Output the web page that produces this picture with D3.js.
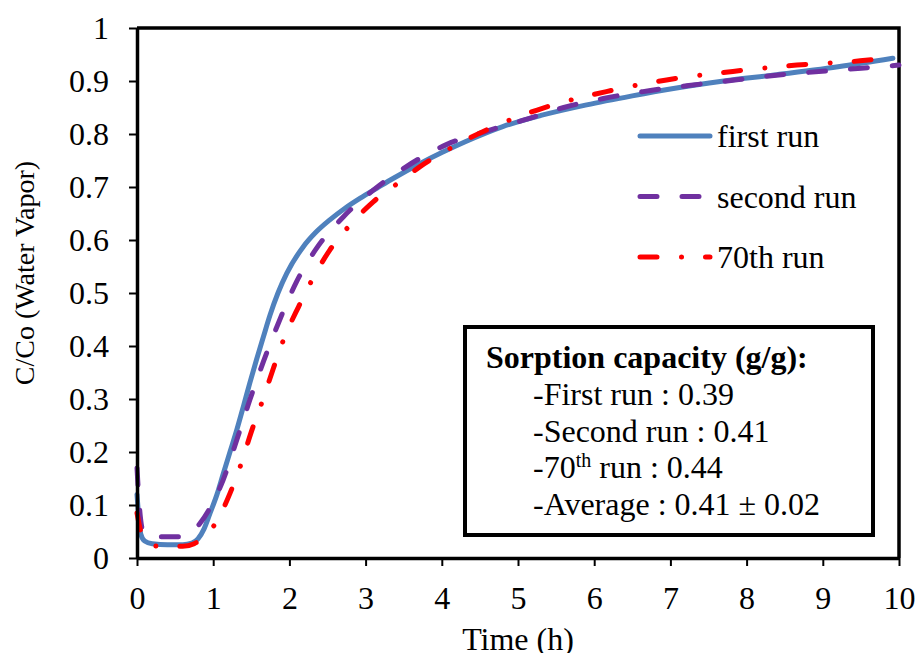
<!DOCTYPE html>
<html>
<head>
<meta charset="utf-8">
<style>
    body { margin: 0; background: #fff; }
    svg text { font-family: "Liberation Serif", "Times New Roman", serif; fill: #000; }
    .axis text { font-size: 32px; }
    .axis line { stroke: #000; stroke-width: 2px; }
    .axis path { stroke: #000; stroke-width: 3.5px; }
</style>
</head>
<body>
<svg width="918" height="653"></svg>
<script src="https://cdn.jsdelivr.net/npm/d3@7"></script>
<script>
    // values: [time (h), C/Co]
    var firstRun = [
        [0, 0.12], [0.05, 0.045], [0.1, 0.032], [0.2, 0.027], [0.4, 0.025], [0.6, 0.025],
        [0.72, 0.028], [0.8, 0.036], [0.88, 0.055], [0.96, 0.085], [1.05, 0.12], [1.13, 0.158],
        [1.22, 0.2], [1.31, 0.242], [1.4, 0.288], [1.48, 0.33], [1.57, 0.375], [1.66, 0.418],
        [1.745, 0.458], [1.85, 0.5], [1.965, 0.537], [2.18, 0.587], [2.35, 0.615], [2.53, 0.638],
        [2.73, 0.66], [2.93, 0.679], [3.15, 0.698], [3.36, 0.716], [3.71, 0.744], [4.0, 0.765],
        [4.3, 0.785], [4.8, 0.814], [5.3, 0.835], [5.9, 0.855], [6.5, 0.872], [7.0, 0.885],
        [7.7, 0.9], [8.4, 0.912], [9.2, 0.927], [9.92, 0.943]
    ];
    var secondRun = [
        [0, 0.17], [0.03, 0.1], [0.08, 0.05], [0.15, 0.042], [0.3, 0.04], [0.56, 0.04],
        [0.7, 0.046], [0.83, 0.066], [0.96, 0.095], [1.13, 0.147], [1.31, 0.223], [1.48, 0.298],
        [1.66, 0.371], [1.855, 0.443], [2.096, 0.522], [2.36, 0.585], [2.71, 0.644], [3.1, 0.694],
        [3.54, 0.739], [4.06, 0.78], [4.6, 0.806], [5.07, 0.826], [5.6, 0.85], [6.12, 0.867],
        [6.64, 0.88], [7.21, 0.891], [7.69, 0.899], [8.2, 0.908], [8.79, 0.916], [9.31, 0.922],
        [9.84, 0.928], [10, 0.93]
    ];
    var run70 = [
        [0, 0.085], [0.05, 0.05], [0.12, 0.03], [0.3, 0.022], [0.6, 0.022], [0.75, 0.027],
        [0.83, 0.034], [0.95, 0.05], [1.05, 0.07], [1.22, 0.122], [1.37, 0.179], [1.5, 0.238],
        [1.65, 0.298], [1.79, 0.358], [1.94, 0.418], [2.12, 0.474], [2.31, 0.528], [2.53, 0.581],
        [2.82, 0.632], [3.1, 0.672], [3.45, 0.71], [3.71, 0.738], [4.1, 0.772], [4.59, 0.808],
        [5.33, 0.849], [6.16, 0.88], [6.95, 0.902], [7.82, 0.918], [8.66, 0.93], [9.49, 0.938],
        [9.95, 0.945]
    ];
    var seriesNames = ["first run", "second run", "70th run"];
    var xTicks = [0, 1, 2, 3, 4, 5, 6, 7, 8, 9, 10];
    var yTicks = [0, 0.1, 0.2, 0.3, 0.4, 0.5, 0.6, 0.7, 0.8, 0.9, 1];
    var capacityLabels = ["First run", "Second run", "70th run", "Average"];
    var capacityValues = ["0.39", "0.41", "0.44", "0.41 \u00b1 0.02"];

    var svg = d3.select("svg");
    // plot edges in px (not "top": that name is taken by window.top)
    var pLeft = 137, pTop = 28, pRight = 899, pBottom = 558;

    var x = d3.scaleLinear().domain([0, 10]).range([pLeft, pRight]);
    var y = d3.scaleLinear().domain([0, 1]).range([pBottom, pTop]);

    var styles = [
        { color: "#4F81BD", dash: null },
        { color: "#7030A0", dash: "17,25" },
        { color: "#FF0000", dash: "17,24.5,0.01,24" }
    ];
    var allSeries = [firstRun, secondRun, run70];

    // frame (top and right)
    svg.append("path")
        .attr("d", "M" + pLeft + "," + pTop + "H" + pRight + "V" + pBottom)
        .attr("fill", "none").attr("stroke", "#000").attr("stroke-width", 3.5);

    var line = d3.line()
        .x(d => x(d[0]))
        .y(d => y(d[1]))
        .curve(d3.curveMonotoneX);

    svg.append("g").selectAll("path")
        .data(allSeries)
        .join("path")
        .attr("d", line)
        .attr("fill", "none")
        .attr("stroke", (d, i) => styles[i].color)
        .attr("stroke-width", 5)
        .attr("stroke-linecap", "round")
        .attr("stroke-dasharray", (d, i) => styles[i].dash);

    svg.append("g").attr("class", "axis")
        .attr("transform", "translate(0," + pBottom + ")")
        .call(d3.axisBottom(x).tickValues(xTicks).tickFormat(d3.format("d")).tickSize(8).tickSizeOuter(0).tickPadding(20));

    svg.append("g").attr("class", "axis")
        .attr("transform", "translate(" + pLeft + ",0)")
        .call(d3.axisLeft(y).tickValues(yTicks).tickFormat(d => d === 0 || d === 1 ? d : d3.format(".1f")(d)).tickSize(8).tickSizeOuter(0).tickPadding(20));

    d3.selectAll(".axis .tick text").attr("fill", "#000");

    // axis titles
    svg.append("text")
        .attr("transform", "translate(34,273) rotate(-90)")
        .attr("text-anchor", "middle")
        .style("font-size", "28px")
        .text("C/Co (Water Vapor)");
    svg.append("text")
        .attr("x", 518).attr("y", 650)
        .attr("text-anchor", "middle")
        .style("font-size", "32px")
        .text("Time (h)");

    // legend
    var legend = svg.append("g").selectAll("g")
        .data(seriesNames)
        .join("g")
        .attr("transform", (d, i) => "translate(640," + (136 + i * 60.5) + ")");
    legend.append("line")
        .attr("x1", 0).attr("x2", 70)
        .attr("stroke", (d, i) => styles[i].color)
        .attr("stroke-width", 5)
        .attr("stroke-linecap", "round")
        .attr("stroke-dasharray", (d, i) => styles[i].dash);
    legend.append("text")
        .attr("x", 77).attr("y", 11)
        .style("font-size", "32px")
        .text(d => d);

    // sorption capacity box
    svg.append("rect")
        .attr("x", 465).attr("y", 327)
        .attr("width", 408).attr("height", 208)
        .attr("fill", "#fff").attr("stroke", "#000").attr("stroke-width", 4);
    svg.append("text")
        .attr("x", 486).attr("y", 368)
        .style("font-size", "32px").style("font-weight", "bold")
        .text("Sorption capacity (g/g):");

    var rows = svg.append("g").selectAll("text")
        .data(capacityLabels)
        .join("text")
        .attr("x", 533)
        .attr("y", (d, i) => 405 + i * 36.7)
        .style("font-size", "32px");
    rows.each(function (d, i) {
        var t = d3.select(this);
        if (d === "70th run") {
            t.append("tspan").text("-70");
            t.append("tspan").text("th").attr("dy", -11).style("font-size", "20px");
            t.append("tspan").text(" run : " + capacityValues[i]).attr("dy", 11);
        } else {
            t.text("-" + d + " : " + capacityValues[i]);
        }
    });
</script>
</body>
</html>
